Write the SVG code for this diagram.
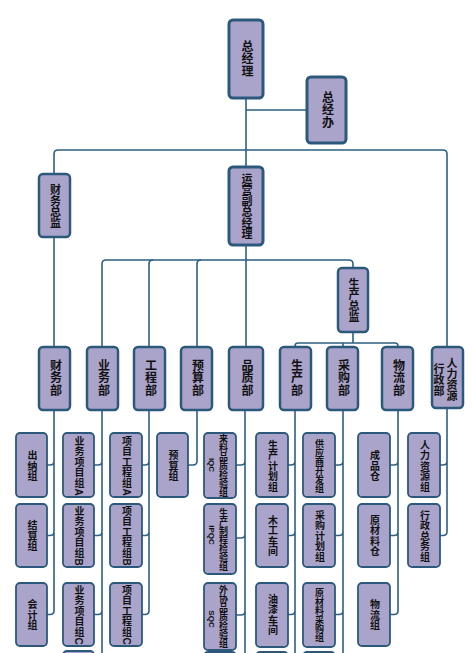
<svg xmlns="http://www.w3.org/2000/svg" width="474" height="653" viewBox="0 0 474 653">
<style>
.b{fill:#aaa4cb;stroke:#2c587c;rx:4;ry:4}
.t1{stroke-width:3}
.t2{stroke-width:2.5}
.t3{stroke-width:1.8}
.v{writing-mode:vertical-rl;text-anchor:middle;font-family:"Liberation Sans","Noto Sans CJK SC",sans-serif;font-weight:bold;fill:#111}
.f12{font-size:12px;letter-spacing:0.5px}
.f11{font-size:11px}
.f10{font-size:10px;letter-spacing:0.5px}
.f9{font-size:9px}
.lat{font-size:8px;letter-spacing:0}
.c{fill:none;stroke:#2e6080;stroke-width:1.6}
</style>
<rect width="474" height="653" fill="#fff"/>
<g id="connectors" class="c">
<path d="M246 98V167M246 110H307"/>
<path d="M54 174V154Q54 150 58 150H443Q447 150 447 154V347"/>
<path d="M54 237V347M246 245V347"/>
<path d="M102 347V264Q102 260 106 260H349Q353 260 353 264V268"/>
<path d="M149 347V264Q149 260 153 260M197 347V264Q197 260 201 260"/>
<path d="M353 332V343M295 347V346Q295 343 298 343H395Q398 343 398 346V347M343 343V347"/>
<path d="M54 410V610.5Q54 614.5 50 614.5H47M54 461Q54 465 50 465H47M54 531.5Q54 535.5 50 535.5H47"/>
<path d="M102 410V660M102 461Q102 465 98 465H94M102 531.5Q102 535.5 98 535.5H94M102 610.5Q102 614.5 98 614.5H94"/>
<path d="M149 410V610.5Q149 614.5 145 614.5H142M149 461Q149 465 145 465H142M149 531.5Q149 535.5 145 535.5H142"/>
<path d="M197 410V461Q197 465 193 465H188"/>
<path d="M245 410V660M245 461Q245 465 241 465H236M245 534Q245 538 241 538H236M245 611Q245 615 241 615H236"/>
<path d="M295 410V660M295 461Q295 465 291 465H288M295 531.5Q295 535.5 291 535.5H288M295 610.5Q295 614.5 291 614.5H288"/>
<path d="M343 410V660M343 461Q343 465 339 465H335M343 531.5Q343 535.5 339 535.5H335M343 610.5Q343 614.5 339 614.5H335"/>
<path d="M398 410V610.5Q398 614.5 394 614.5H390M398 461Q398 465 394 465H390M398 531.5Q398 535.5 394 535.5H390"/>
<path d="M447 408V531.5Q447 535.5 443 535.5H440M447 461Q447 465 443 465H440"/>
</g>
<g id="n-zjl"><rect class="b t1" x="229" y="20" width="34" height="78"/><text class="v f12" x="246" y="59">总经理</text></g>
<g id="n-zjb"><rect class="b t1" x="307" y="77" width="39" height="66"/><text class="v f12" x="326.5" y="110">总经办</text></g>
<g id="n-cwzj"><rect class="b t2" x="39" y="174" width="31" height="63"/><text class="v f11" x="54.5" y="206">财务总监</text></g>
<g id="n-yyfzjl"><rect class="b t1" x="229" y="167" width="34" height="78"/><text class="v f11" x="246" y="206">运营副总经理</text></g>
<g id="n-sczj"><rect class="b t2" x="338" y="268" width="30" height="64"/><text class="v f11" x="353" y="300">生产总监</text></g>
<g id="n-cwb"><rect class="b t2" x="39" y="347" width="31" height="63"/><text class="v f12" x="54.5" y="378">财务部</text></g>
<g id="n-ywb"><rect class="b t2" x="87" y="347" width="31" height="63"/><text class="v f12" x="102.5" y="378">业务部</text></g>
<g id="n-gcb"><rect class="b t2" x="134" y="347" width="31" height="63"/><text class="v f12" x="149.5" y="378">工程部</text></g>
<g id="n-ysb"><rect class="b t2" x="181" y="347" width="31" height="63"/><text class="v f12" x="196.5" y="378">预算部</text></g>
<g id="n-pzb"><rect class="b t2" x="229" y="347" width="34" height="63"/><text class="v f12" x="246" y="378">品质部</text></g>
<g id="n-scb"><rect class="b t2" x="280" y="347" width="31" height="63"/><text class="v f12" x="295.5" y="378">生产部</text></g>
<g id="n-cgb"><rect class="b t2" x="327" y="347" width="31" height="63"/><text class="v f12" x="342.5" y="378">采购部</text></g>
<g id="n-wlb"><rect class="b t2" x="382" y="347" width="31" height="63"/><text class="v f12" x="397.5" y="378">物流部</text></g>
<g id="n-rlzy"><rect class="b t2" x="432" y="347" width="31" height="61"/><text class="v f11" x="451" y="379">人力资源</text><text class="v f11" x="438" y="380">行政部</text></g>
<g id="n-cn"><rect class="b t3" x="16" y="433" width="31" height="64"/><text class="v f10" x="31.5" y="466">出纳组</text></g>
<g id="n-js"><rect class="b t3" x="16" y="504" width="31" height="63"/><text class="v f10" x="31.5" y="536">结算组</text></g>
<g id="n-kj"><rect class="b t3" x="16" y="583" width="31" height="63"/><text class="v f10" x="31.5" y="615">会计组</text></g>
<g id="n-ywa"><rect class="b t3" x="63" y="433" width="31" height="64"/><text class="v f10" x="78.5" y="466">业务项目组A</text></g>
<g id="n-ywb2"><rect class="b t3" x="63" y="504" width="31" height="63"/><text class="v f10" x="78.5" y="536">业务项目组B</text></g>
<g id="n-ywc"><rect class="b t3" x="63" y="583" width="31" height="63"/><text class="v f10" x="78.5" y="615">业务项目组C</text></g>
<g id="n-yw4"><rect class="b t3" x="63" y="651" width="31" height="20"/></g>
<g id="n-gca"><rect class="b t3" x="110" y="433" width="32" height="64"/><text class="v f10" x="126" y="466">项目工程组A</text></g>
<g id="n-gcb2"><rect class="b t3" x="110" y="504" width="32" height="63"/><text class="v f10" x="126" y="536">项目工程组B</text></g>
<g id="n-gcc"><rect class="b t3" x="110" y="583" width="32" height="63"/><text class="v f10" x="126" y="615">项目工程组C</text></g>
<g id="n-ysz"><rect class="b t3" x="157" y="433" width="31" height="64"/><text class="v f10" x="172.5" y="466">预算组</text></g>
<g id="n-iqc"><rect class="b t3" x="204" y="433" width="32" height="65"/><text class="v f9" x="223" y="466">来料品质检验组</text><text class="v lat" x="211" y="465">IQC</text></g>
<g id="n-ipqc"><rect class="b t3" x="204" y="504" width="32" height="70"/><text class="v f9" x="223" y="540">生产制程检验组</text><text class="v lat" x="211" y="535">IPQC</text></g>
<g id="n-sqc"><rect class="b t3" x="204" y="583" width="32" height="67"/><text class="v f9" x="223" y="617">外协品质检验组</text><text class="v lat" x="211" y="619">SQC</text></g>
<g id="n-pz4"><rect class="b t3" x="204" y="652" width="32" height="20"/></g>
<g id="n-scjh"><rect class="b t3" x="256" y="433" width="32" height="64"/><text class="v f10" x="272" y="466">生产计划组</text></g>
<g id="n-mgcj"><rect class="b t3" x="256" y="504" width="32" height="63"/><text class="v f10" x="272" y="536">木工车间</text></g>
<g id="n-yqcj"><rect class="b t3" x="256" y="583" width="32" height="64"/><text class="v f10" x="272" y="615">油漆车间</text></g>
<g id="n-sc4"><rect class="b t3" x="256" y="652" width="32" height="20"/></g>
<g id="n-gyskf"><rect class="b t3" x="303" y="433" width="32" height="64"/><text class="v f9" x="319" y="466">供应商开发组</text></g>
<g id="n-cgjh"><rect class="b t3" x="303" y="504" width="32" height="63"/><text class="v f10" x="319" y="536">采购计划组</text></g>
<g id="n-yclcg"><rect class="b t3" x="303" y="583" width="32" height="64"/><text class="v f9" x="319" y="615">原材料采购组</text></g>
<g id="n-cg4"><rect class="b t3" x="303" y="652" width="32" height="20"/></g>
<g id="n-cpc"><rect class="b t3" x="358" y="433" width="32" height="64"/><text class="v f10" x="374" y="466">成品仓</text></g>
<g id="n-yclc"><rect class="b t3" x="358" y="504" width="32" height="63"/><text class="v f10" x="374" y="536">原材料仓</text></g>
<g id="n-wlz"><rect class="b t3" x="358" y="583" width="32" height="63"/><text class="v f10" x="374" y="615">物流组</text></g>
<g id="n-rlzyz"><rect class="b t3" x="408" y="433" width="32" height="64"/><text class="v f10" x="424" y="466">人力资源组</text></g>
<g id="n-xzzw"><rect class="b t3" x="408" y="504" width="32" height="63"/><text class="v f10" x="424" y="536">行政总务组</text></g>
</svg>
